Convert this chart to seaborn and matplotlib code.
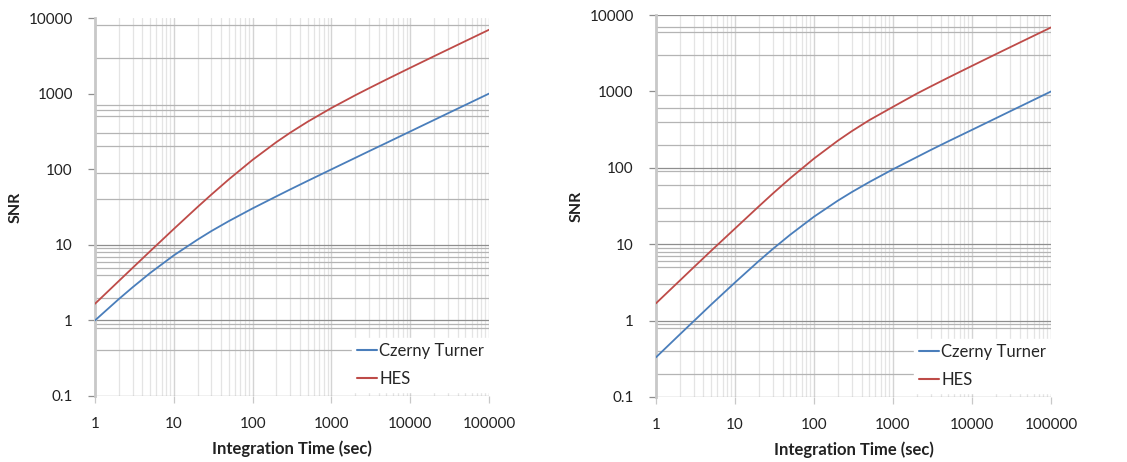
import numpy as np
import pandas as pd
import matplotlib
matplotlib.use("Agg")
import matplotlib.pyplot as plt
from matplotlib.ticker import FixedLocator, FixedFormatter, LogLocator, NullFormatter
import seaborn as sns

# Integration times (s) at which SNR was evaluated
time_s = [1, 2, 3, 5, 10, 20, 30, 50, 100, 200, 300, 500, 1000,
          2000, 3000, 5000, 10000, 20000, 30000, 50000, 100000]

# Left panel
ct_left = [1.0, 1.91, 2.74, 4.23, 7.25, 11.7, 15.2, 20.6, 30.3, 43.7, 54.0, 70.1, 99.5,
           141, 173, 223, 316, 447, 548, 707, 1000]
hes_left = [1.66, 3.31, 4.95, 8.21, 16.2, 31.6, 46.2, 73.5, 133, 228, 304, 425, 645,
            949, 1178, 1538, 2194, 3117, 3823, 4941, 6994]

# Right panel
ct_right = [0.33, 0.657, 0.98, 1.62, 3.15, 6.01, 8.63, 13.3, 22.9, 37.1, 48.0, 65.0, 95.7,
            138, 171, 222, 314, 445, 546, 705, 999]
hes_right = [1.68, 3.33, 4.97, 8.2, 16.0, 31.2, 45.8, 73.0, 132, 226, 301, 420, 628,
             935, 1160, 1515, 2160, 3070, 3765, 4865, 6880]

series_names = ["Czerny Turner", "HES"]
x_ticks = [1, 10, 100, 1000, 10000, 100000]
x_tick_labels = ["1", "10", "100", "1000", "10000", "100000"]
y_ticks = [0.1, 1, 10, 100, 1000, 10000]
y_tick_labels = ["0.1", "1", "10", "100", "1000", "10000"]

# Horizontal grid rules drawn on each panel (dark = decade rules)
hgrid_left_dark = [0.1, 1, 10]
hgrid_left_light = [0.4, 0.8, 0.9, 2, 4, 5, 6, 7, 8, 9, 40, 90, 200, 300, 500, 600, 700,
                    3000, 8000]
hgrid_right_dark = [0.1, 1, 10, 100, 10000]
hgrid_right_light = [0.2, 0.4, 0.8, 0.9, 3, 5, 6, 7, 8, 9, 20, 30, 60, 90, 200, 400, 600,
                     900, 3000, 6000, 7000]

sns.set_theme(style="white")
plt.rcParams["font.family"] = ["Lato", "DejaVu Sans"]

palette = {"Czerny Turner": "#4a7ebb", "HES": "#be4b48"}

fig = plt.figure(figsize=(11.27, 4.62), dpi=100)
ax_left = fig.add_axes([0.0843, 0.1429, 0.3496, 0.8181])
ax_right = fig.add_axes([0.5820, 0.1407, 0.3506, 0.8268])


def draw_panel(ax, ct, hes, hdark, hlight):
    df = pd.DataFrame({
        "Integration Time (sec)": time_s * 2,
        "SNR": ct + hes,
        "series": [series_names[0]] * len(time_s) + [series_names[1]] * len(time_s),
    })
    sns.lineplot(data=df, x="Integration Time (sec)", y="SNR", hue="series",
                 palette=palette, linewidth=1.3, ax=ax, zorder=3)
    ax.set_xscale("log")
    ax.set_yscale("log")
    ax.set_xlim(1, 100000)
    ax.set_ylim(0.1, 10000)

    ax.xaxis.set_major_locator(FixedLocator(x_ticks))
    ax.xaxis.set_major_formatter(FixedFormatter(x_tick_labels))
    ax.yaxis.set_major_locator(FixedLocator(y_ticks))
    ax.yaxis.set_major_formatter(FixedFormatter(y_tick_labels))
    ax.xaxis.set_minor_locator(LogLocator(base=10, subs=np.arange(2, 10), numticks=20))
    ax.xaxis.set_minor_formatter(NullFormatter())
    ax.yaxis.set_minor_formatter(NullFormatter())

    ax.grid(False)
    ax.grid(True, axis="x", which="major", color="#d4d4d4", linewidth=1.0, zorder=0)
    ax.grid(True, axis="x", which="minor", color="#e4e4e4", linewidth=0.9, zorder=0)
    for v in hlight:
        ax.axhline(v, color="#b4b4b4", linewidth=0.9, zorder=1)
    for v in hdark:
        ax.axhline(v, color="#8e8e8e", linewidth=0.9, zorder=1)
    ax.set_axisbelow(True)

    for side in ("top", "right", "bottom"):
        ax.spines[side].set_visible(False)
    ax.spines["left"].set_color("#c8c8c8")
    ax.spines["left"].set_linewidth(2.0)

    ax.tick_params(axis="y", which="major", left=True, length=5, width=0.9,
                   color="#8e8e8e", labelsize=11, labelcolor="#222222", pad=11)
    ax.tick_params(axis="x", which="major", bottom=True, length=5, width=0.9,
                   color="#c8c8c8", labelsize=11, labelcolor="#222222", pad=10)
    ax.tick_params(axis="both", which="minor", length=0)

    ax.set_xlabel("Integration Time (sec)", fontsize=12, fontweight="bold",
                  color="#222222", labelpad=7)
    ax.set_ylabel("SNR", fontsize=11.5, fontweight="bold", color="#222222", labelpad=4)

    leg = ax.legend(loc="lower right", bbox_to_anchor=(1.0, 0.01), frameon=True,
                    fontsize=12, handlelength=1.2, handletextpad=0.15,
                    labelspacing=0.72, borderpad=0.3, borderaxespad=0.0)
    leg.get_frame().set_facecolor("white")
    leg.get_frame().set_edgecolor("white")
    leg.get_frame().set_alpha(1.0)
    leg.get_frame().set_boxstyle("square", pad=0.0)
    leg.set_zorder(5)
    for h in leg.get_lines():
        h.set_linewidth(1.5)


draw_panel(ax_left, ct_left, hes_left, hgrid_left_dark, hgrid_left_light)
draw_panel(ax_right, ct_right, hes_right, hgrid_right_dark, hgrid_right_light)

fig.savefig("out.png", dpi=100, facecolor="white")
